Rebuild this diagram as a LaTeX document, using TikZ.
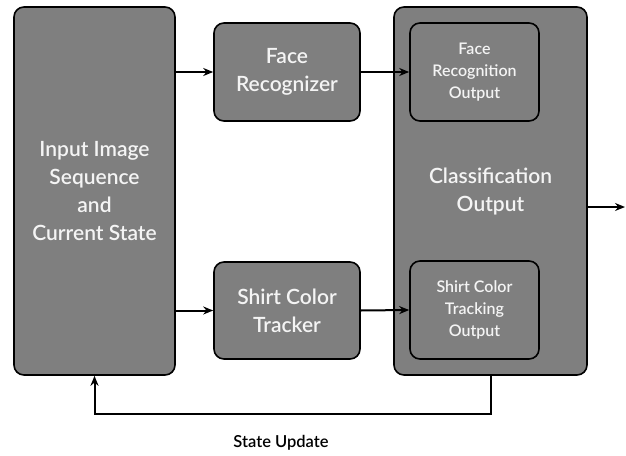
\documentclass[tikz,border=0pt]{standalone}
\usepackage{fontspec}
\setmainfont{Lato}[UprightFont=* Semibold]
\usetikzlibrary{arrows.meta}
\definecolor{boxgray}{HTML}{7F7F7F}
\definecolor{boxtext}{HTML}{F4F4F4}
\tikzset{
  block/.style={draw=black, line width=1.6pt, fill=boxgray, rounded corners=10pt,
    text=boxtext, align=center, inner sep=0pt, font=\fontsize{21}{28}\selectfont},
  small/.style={font=\fontsize{16}{22}\selectfont},
  flow/.style={line width=2pt, -{Stealth[length=10pt,width=8pt]}},
}
\begin{document}
\begin{tikzpicture}[x=1pt,y=-1pt]
\useasboundingbox (0,0) rectangle (626,455);
% main blocks
\node[block, minimum width=161pt, minimum height=368pt] (in) at (94.5,191) {Input Image\\Sequence\\and\\Current State};
\node[block, minimum width=146pt, minimum height=98pt] (face) at (287,72) {Face\\Recognizer};
\node[block, minimum width=146pt, minimum height=97pt] (shirt) at (287,310.5) {Shirt Color\\Tracker};
\node[block, minimum width=193pt, minimum height=368pt] (cls) at (490.5,191) {Classification\\Output};
% inner output blocks
\node[block, small, minimum width=129pt, minimum height=98pt] (fro) at (474.5,72) {Face\\Recognition\\Output};
\node[block, small, minimum width=129pt, minimum height=98pt] (scto) at (474.5,310) {Shirt Color\\Tracking\\Output};
% connectors
\draw[flow] (in.east |- face.west) -- (face.west);
\draw[flow] (face.east) -- (fro.west);
\draw[flow] (in.east |- shirt.west) -- (shirt.west);
\draw[flow] (shirt.east) -- (scto.west);
\coordinate (outend) at (625,207);
\draw[flow] (cls.east |- outend) -- (outend);
\draw[flow] (cls.south) -- ++(0,38) -| (in.south);
\node[font=\fontsize{16.5}{20}\selectfont] (lbl) at (281,443) {State Update};
\end{tikzpicture}
\end{document}
